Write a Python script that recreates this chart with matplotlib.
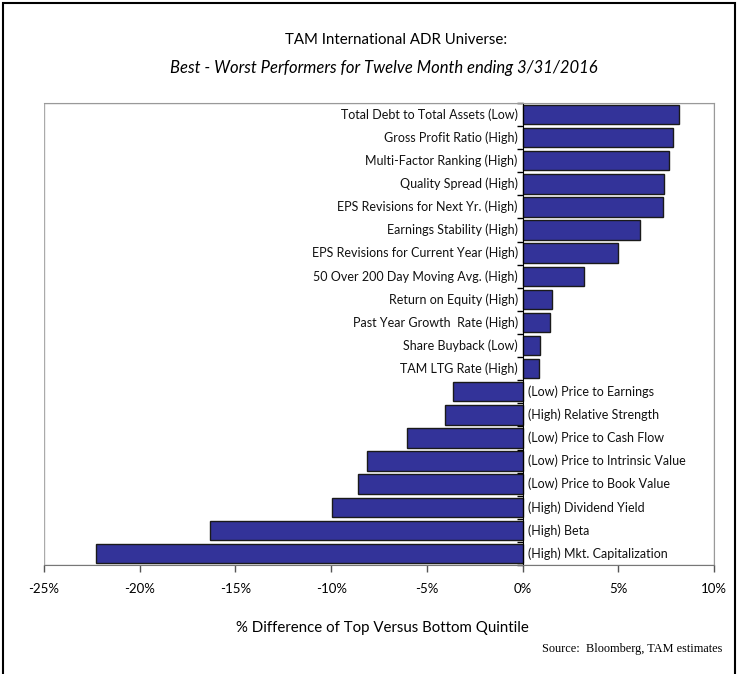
import matplotlib.pyplot as plt
from matplotlib.patches import Rectangle

plt.rcParams['font.family'] = ['Lato', 'DejaVu Sans']

factors = [
    "Total Debt to Total Assets (Low)",
    "Gross Profit Ratio (High)",
    "Multi-Factor Ranking (High)",
    "Quality Spread (High)",
    "EPS Revisions for Next Yr. (High)",
    "Earnings Stability (High)",
    "EPS Revisions for Current Year (High)",
    "50 Over 200 Day Moving Avg. (High)",
    "Return on Equity (High)",
    "Past Year Growth  Rate (High)",
    "Share Buyback (Low)",
    "TAM LTG Rate (High)",
    "(Low) Price to Earnings",
    "(High) Relative Strength",
    "(Low) Price to Cash Flow",
    "(Low) Price to Intrinsic Value",
    "(Low) Price to Book Value",
    "(High) Dividend Yield",
    "(High) Beta",
    "(High) Mkt. Capitalization",
]
spread = [8.15, 7.88, 7.65, 7.39, 7.36, 6.14, 4.99, 3.23, 1.53, 1.43, 0.89, 0.84,
          -3.61, -4.04, -6.03, -8.11, -8.58, -9.97, -16.35, -22.26]
xticks = [-25, -20, -15, -10, -5, 0, 5, 10]

fig = plt.figure(figsize=(7.39, 6.74), dpi=100)
fig.patches.append(Rectangle((3 / 739, -0.05), 732 / 739, 1.05 - 3 / 674,
                             transform=fig.transFigure, fill=False,
                             edgecolor='black', linewidth=1.5))

ax = fig.add_axes([44 / 739, 1 - 565 / 674, 670 / 739, 462 / 674])
pos = list(range(len(factors)))
ax.barh(pos, spread, height=0.84, color='#333399', edgecolor='#1a1a1a', linewidth=1)

for y, v, name in zip(pos, spread, factors):
    if v >= 0:
        ax.text(-0.25, y, name, ha='right', va='center', fontsize=9, color='#111111')
    else:
        ax.text(0.3, y, name, ha='left', va='center', fontsize=9, color='#111111')

ax.set_xlim(-25, 10)
ax.set_ylim(len(factors) - 0.5, -0.5)
ax.set_xticks(xticks)
ax.set_xticklabels([f"{t}%" for t in xticks], fontsize=9.5)
ax.tick_params(axis='x', length=5, width=1, color='#555555', pad=8)

ax.spines['left'].set_position(('data', 0))
ax.spines['left'].set_color('black')
ax.set_yticks([p - 0.5 for p in pos] + [len(factors) - 0.5])
ax.set_yticklabels([])
ax.tick_params(axis='y', length=4, width=1, direction='out', color='black')
for s in ['top', 'right']:
    ax.spines[s].set_color('#999999')
ax.spines['bottom'].set_color('#777777')

# grey frame round the plot box
ax.add_patch(Rectangle((0, 0), 1, 1, transform=ax.transAxes, fill=False,
                       edgecolor='#aaaaaa', linewidth=1, zorder=0))

fig.text(396 / 739, 1 - 40 / 674, "TAM International ADR Universe:",
         ha='center', va='center', fontsize=10.8)
fig.text(384 / 739, 1 - 68 / 674, "Best - Worst Performers for Twelve Month ending 3/31/2016",
         ha='center', va='center', fontsize=12, style='italic')
fig.text(382 / 739, 1 - 628 / 674, "% Difference of Top Versus Bottom Quintile",
         ha='center', va='center', fontsize=10.8)
fig.text(722 / 739, 1 - 649 / 674, "Source:  Bloomberg, TAM estimates",
         ha='right', va='center', fontsize=8.8, family=['Liberation Serif', 'DejaVu Serif'])

fig.savefig("out.png", dpi=100)
